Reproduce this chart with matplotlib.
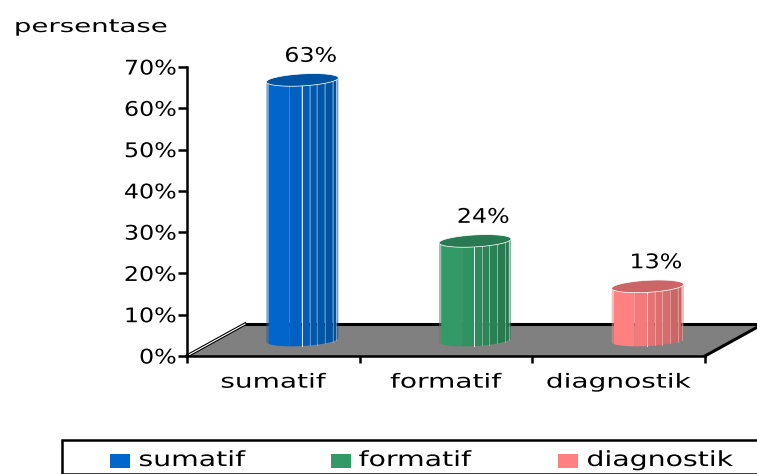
import numpy as np
import matplotlib
matplotlib.use("Agg")
import matplotlib.pyplot as plt
import matplotlib.patheffects as pe
from matplotlib.patches import Rectangle, Polygon
from matplotlib.transforms import Affine2D

kategori = ["sumatif", "formatif", "diagnostik"]
nilai = [63, 24, 13]
label_nilai = ["63%", "24%", "13%"]
warna = ["#0066CC", "#339966", "#FF8080"]
y_ticks = [0, 10, 20, 30, 40, 50, 60, 70]
y_labels = ["0%", "10%", "20%", "30%", "40%", "50%", "60%", "70%"]

W, H = 757, 474

# sisi-sisi silinder (fraksi lebar) dan faktor gelapnya
sisi = [0, .03, .32, .49, .60, .70, .81, .92, .97, 1]
gelap = [1.0, 1.0, .95, .90, .86, .84, .80, .78, .75]


class Lebar(pe.AbstractPathEffect):
    # teks asli terlihat ditarik mendatar
    def __init__(self, sx, kanan=False):
        super().__init__()
        self.sx = sx
        self.kanan = kanan

    def draw_path(self, renderer, gc, tpath, affine, rgbFace=None):
        e = tpath.get_extents()
        c = e.x1 if self.kanan else (e.x0 + e.x1) / 2
        t = Affine2D().translate(-c, 0).scale(self.sx, 1).translate(c, 0) + affine
        renderer.draw_path(gc, tpath, t, rgbFace)


def shade(c, f):
    return tuple(np.array(matplotlib.colors.to_rgb(c)) * f)


fig = plt.figure(figsize=(W / 100, H / 100), dpi=100)
ax = fig.add_axes([187 / W, (H - 356) / H, 518 / W, 289 / H])
ax.set_xlim(-0.5, 2.5)
ax.set_ylim(0, 70)
ax.patch.set_visible(False)

px = 3 / 518
py = 70 / 289
dx, dy = 58 * px, 32 * py   # kedalaman lantai

# lantai
ax.add_patch(Polygon([(-0.5, 0), (-0.5 + dx, dy), (2.5 + dx, dy), (2.5, 0)], closed=True,
                     fc="#808080", ec="none", clip_on=False, zorder=1))
ax.plot([-0.5 + dx, 2.5 + dx], [dy, dy], color="black", lw=2.2, clip_on=False, zorder=2)
ax.plot([2.5, 2.5 + dx], [0, dy], color="black", lw=2.2, clip_on=False, zorder=2)
ax.plot([-0.5, -0.5 + dx], [0, dy], color="black", lw=2.4, clip_on=False, zorder=2)
ax.plot([-0.5, -0.5 + dx], [0, dy], color="white", lw=0.8, clip_on=False, zorder=2)

# silinder
hw = 36 * px
el = 6 * py
miring = 2 * py
for i, v in enumerate(nilai):
    cx = i + dx / 2
    y0 = dy / 2
    for j in range(len(gelap)):
        fr = np.linspace(sisi[j], sisi[j + 1], 8) * 2 - 1
        xs = cx + hw * fr
        lengkung = el * np.sqrt(1 - fr ** 2) - miring * fr
        bawah = y0 - lengkung
        atas = y0 + v - lengkung
        poly = np.column_stack([np.r_[xs, xs[::-1]], np.r_[atas, bawah[::-1]]])
        a = 0.55 if j == 0 or j == 8 else 1
        ax.add_patch(Polygon(poly, closed=True, fc=shade(warna[i], gelap[j]), ec="none", alpha=a, zorder=3))
        if j > 2:
            ax.plot([xs[0], xs[0]], [bawah[0], atas[0]], color="white", lw=0.7,
                    alpha=0.85 if j == 3 else 0.35, zorder=4)
    t = np.linspace(0, 2 * np.pi, 60)
    ax.add_patch(Polygon(np.column_stack([cx + hw * np.cos(t), y0 + v + el * np.sin(t) + miring * np.cos(t)]),
                         closed=True, fc=shade(warna[i], .80), ec="white", lw=0.5, zorder=5))
    ax.annotate(label_nilai[i], (cx, y0 + v), xytext=(6, 17), textcoords="offset points",
                ha="center", va="center", fontsize=14.5, color="black",
                path_effects=[Lebar(1.18)])

for s in ["top", "right"]:
    ax.spines[s].set_visible(False)
for s in ["left", "bottom"]:
    ax.spines[s].set_linewidth(1.8)
    ax.spines[s].set_zorder(6)

ax.set_yticks(y_ticks)
ax.set_yticklabels(y_labels, fontsize=14.5, path_effects=[Lebar(1.18, kanan=True)])
ax.tick_params(axis="y", length=6.5, width=1.8, pad=1)
ax.set_xticks([-0.5, 0.5, 1.5, 2.5])
ax.set_xticklabels([])
ax.set_xticks([0, 1, 2], minor=True)
ax.set_xticklabels(kategori, minor=True, fontsize=14, path_effects=[Lebar(1.44)])
ax.tick_params(axis="x", which="major", length=5, width=1.8)
ax.tick_params(axis="x", which="minor", length=0, pad=12)

fig.text(91 / W, 1 - 27 / H, "persentase", ha="center", va="center", fontsize=13,
         path_effects=[Lebar(1.53)])

# legenda
fig.add_artist(Rectangle((62 / W, 0), 720 / W, (H - 440) / H, transform=fig.transFigure,
                         fc="white", ec="black", lw=1.8))
leg_kotak = [110, 331, 558]
leg_teks = [192, 415, 660]
for i, k in enumerate(kategori):
    fig.add_artist(Rectangle((leg_kotak[i] / W, 1 - 468 / H), 20 / W, 14 / H,
                             transform=fig.transFigure, fc=warna[i], ec="none"))
    fig.text(leg_teks[i] / W, 1 - 460 / H, k, ha="center", va="center", fontsize=15,
             path_effects=[Lebar(1.36)])

fig.savefig("out.png", dpi=100)
